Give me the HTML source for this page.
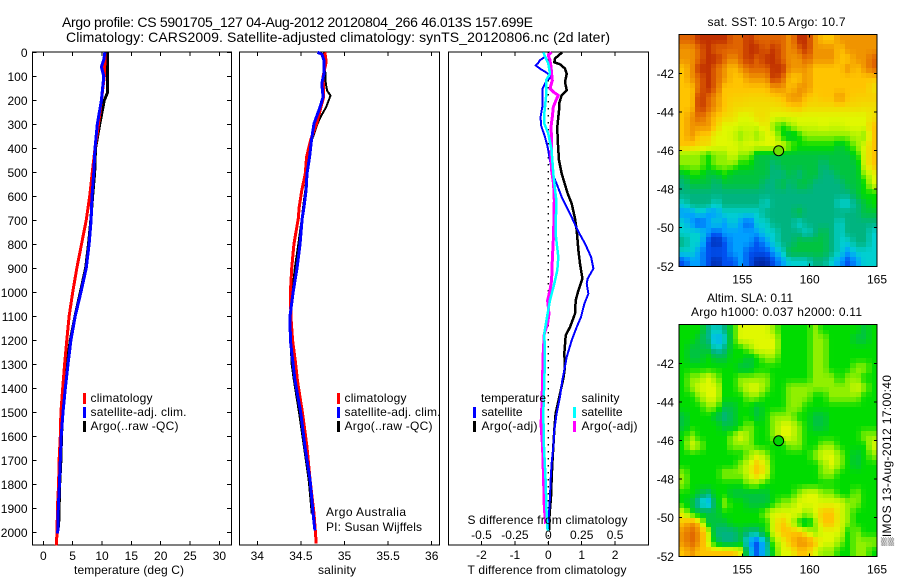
<!DOCTYPE html>
<html>
<head>
<meta charset="utf-8">
<title>Argo profile CS 5901705_127</title>
<style>
html,body{margin:0;padding:0;background:#fff;}
svg{display:block;}
text{font-family:"Liberation Sans",Arial,sans-serif;font-size:12px;fill:#000;}
.crisp{shape-rendering:crispEdges;}
</style>
</head>
<body>
<svg id="figure" width="900" height="580" viewBox="0 0 900 580" xmlns="http://www.w3.org/2000/svg">
<rect x="0" y="0" width="900" height="580" fill="#fff"/>
<text x="62" y="27" style="font-size:14px" textLength="471">Argo profile: CS 5901705_127 04-Aug-2012 20120804_266 46.013S 157.699E</text>
<text x="66" y="42" style="font-size:14px" textLength="544">Climatology: CARS2009. Satellite-adjusted climatology: synTS_20120806.nc (2d later)</text>

<g id="heat1"></g>
<g id="heat2"></g>
<g id="axes"></g>
<g id="series"></g>

<g>
<rect x="83" y="393" width="3" height="11" fill="#f00"/>
<rect x="83" y="407" width="3" height="11" fill="#00f"/>
<rect x="83" y="421" width="3" height="11" fill="#000"/>
<text x="90.5" y="402" textLength="62">climatology</text>
<text x="90.5" y="416" textLength="96">satellite-adj. clim.</text>
<text x="90.5" y="430" textLength="88">Argo(..raw -QC)</text>
</g>
<g>
<rect x="337" y="393" width="3" height="11" fill="#f00"/>
<rect x="337" y="407" width="3" height="11" fill="#00f"/>
<rect x="337" y="421" width="3" height="11" fill="#000"/>
<text x="344.5" y="402" textLength="62">climatology</text>
<text x="344.5" y="416" textLength="96">satellite-adj. clim.</text>
<text x="344.5" y="430" textLength="88">Argo(..raw -QC)</text>
</g>
<text x="326" y="516" textLength="80">Argo Australia</text>
<text x="326" y="531" textLength="96">PI: Susan Wijffels</text>

<g>
<text x="481" y="402" textLength="65">temperature</text>
<rect x="473" y="407" width="3" height="11" fill="#00f"/>
<rect x="473" y="421" width="3" height="11" fill="#000"/>
<text x="481.5" y="416" textLength="41">satellite</text>
<text x="481.5" y="430" textLength="56">Argo(-adj)</text>
<text x="581.5" y="402" textLength="38">salinity</text>
<rect x="573" y="407" width="3" height="11" fill="#0ff"/>
<rect x="573" y="421" width="3" height="11" fill="#f0f"/>
<text x="581.5" y="416" textLength="41">satellite</text>
<text x="581.5" y="430" textLength="56">Argo(-adj)</text>
</g>

<text x="74" y="574" textLength="110">temperature (deg C)</text>
<text x="318" y="574" textLength="38">salinity</text>
<text x="467.5" y="574" textLength="159">T difference from climatology</text>
<text x="467.5" y="524" textLength="160">S difference from climatology</text>

<text x="707.5" y="26" textLength="138">sat. SST: 10.5 Argo: 10.7</text>
<text x="707" y="302" textLength="86">Altim. SLA: 0.11</text>
<text x="691" y="316" textLength="171">Argo h1000: 0.037 h2000: 0.11</text>
<text transform="translate(891,546) rotate(-90)" textLength="171">▒IMOS 13-Aug-2012 17:00:40</text>
</svg>

<script>
// ---------- profile data: depth (dbar) and values ----------
var tempClimDepth = [0,40,100,200,300,400,500,600,700,800,900,1000,1100,1200,1300,1400,1500,1600,1700,1800,1900,2000,2054];
var tempClim =      [10.5,10.5,10.4,9.9,9.4,8.8,8.35,7.9,7.3,6.5,5.7,5.0,4.4,4.0,3.63,3.3,3.0,2.9,2.7,2.6,2.4,2.35,2.2];
var tempSatDepth = [0,30,60,100,200,300,400,500,600,700,800,900,1000,1100,1200,1300,1400,1500,1600,1700,1800,1900,2004];
var tempSat =      [10.5,10.3,9.9,10.3,9.9,9.2,8.8,8.6,8.3,8.15,7.8,7.3,6.4,5.44,4.7,4.2,3.75,3.35,3.05,2.9,2.75,2.55,2.45];
var tempArgoDepth = [0,100,170,200,300,400,500,600,700,800,900,1000,1100,1200,1300,1400,1500,1600,1700,1800,1900,1980];
var tempArgo =      [10.9,10.9,10.9,10.4,9.6,8.9,8.75,8.4,8.1,7.7,7.2,6.3,5.4,4.6,4.0,3.6,3.3,3.1,3.0,2.8,2.7,2.6];

var salClimDepth = [0,40,100,186,228,297,367,436,505,575,645,692,800,900,1000,1100,1200,1300,1367,1506,1645,1783,1922,1992,2047];
var salClim =      [34.775,34.79,34.755,34.76,34.73,34.68,34.61,34.565,34.55,34.51,34.48,34.47,34.42,34.395,34.38,34.385,34.405,34.44,34.46,34.52,34.57,34.605,34.65,34.665,34.675];
var salSatDepth = [0,8,33,89,130,186,228,297,367,436,505,575,645,692,800,900,1000,1100,1200,1300,1367,1506,1645,1783,1922,1992];
var salSat =      [34.69,34.74,34.765,34.765,34.74,34.755,34.72,34.65,34.62,34.6,34.57,34.56,34.535,34.515,34.49,34.455,34.41,34.375,34.38,34.41,34.432,34.5,34.547,34.605,34.64,34.66];
var salArgoDepth = [0,50,130,160,180,195,228,260,297,367,436,505,575,645,692,800,900,1000,1100,1200,1300,1367,1506,1645,1783,1922];
var salArgo =      [34.765,34.775,34.785,34.8,34.84,34.825,34.79,34.74,34.69,34.625,34.585,34.565,34.55,34.525,34.51,34.47,34.43,34.4,34.375,34.38,34.395,34.42,34.48,34.535,34.59,34.625];

var diffTArgoDepth = [0,8,26,42,50,68,89,124,158,179,214,242,311,367,450,506,589,631,693,742,825,881,943,992,1033,1089,1145,1179,1256,1311,1360,1436,1506,1575,1645,1714,1783,1853,1922,1992];
var diffTArgo =      [0.42,0.35,0.2,0.18,0.35,0.5,0.55,0.5,0.55,0.4,0.32,0.32,0.27,0.28,0.32,0.4,0.58,0.7,0.8,0.85,0.9,0.95,1.02,0.9,0.82,0.8,0.65,0.52,0.48,0.5,0.45,0.33,0.22,0.18,0.15,0.12,0.1,0.08,0.04,0.02];
var diffTSatDepth = [0,19,33,44,54,68,85,103,117,151,193,228,269,304,353,394,506,547,603,672,742,797,853,901,943,964,1006,1047,1103,1145,1200,1270,1325,1367,1436,1506,1575,1645,1714,1783,1853,1922,1992];
var diffTSat =      [-0.15,-0.1,-0.25,-0.3,-0.38,-0.25,-0.05,0.1,-0.05,-0.17,-0.18,-0.18,-0.23,-0.22,-0.1,-0.02,0.12,0.25,0.4,0.65,0.88,1.1,1.28,1.35,1.18,1.15,1.2,1.08,0.98,0.85,0.7,0.55,0.48,0.42,0.35,0.25,0.18,0.15,0.1,0.07,0.05,0.02,-0.02];
var diffSArgoDepth = [0,12,33,61,89,117,151,165,179,200,228,269,311,367,436,492,550,617,756,867,950,992,1033,1089,1131,1172,1270,1360,1506,1547,1645,1783,1894,1964];
var diffSArgo =      [0.025,0,0.0125,0.02,0.025,0.03,0.0125,0.0375,0.075,0.0575,0.0375,0.03,0.02,0.025,0.02,0.025,0.04,0.045,0.04,0.03,0.025,0.0125,-0.005,0.005,-0.005,-0.03,-0.04,-0.0425,-0.05,-0.055,-0.0425,-0.035,-0.03,-0.02];
var diffSSatDepth = [0,47,89,117,186,256,297,339,408,506,617,756,853,908,964,1033,1089,1172,1270,1367,1506,1645,1783,1922,1992];
var diffSSat =      [-0.0375,0,0.0125,-0.0175,-0.0175,-0.03,-0.03,0,0.025,0.0375,0.06,0.055,0.075,0.0675,0.045,0.0125,-0.005,-0.03,-0.025,-0.03,-0.0375,-0.0325,-0.02,-0.0125,-0.005];

// ---------- tick labels ----------
var depthTicks = [0,100,200,300,400,500,600,700,800,900,1000,1100,1200,1300,1400,1500,1600,1700,1800,1900,2000];
var tempTicks = [0,5,10,15,20,25,30];
var salTicks = [34,34.5,35,35.5,36];
var salTickLabels = ["34","34.5","35","35.5","36"];
var diffTTicks = [-2,-1,0,1,2];
var diffSTicks = [-0.5,-0.25,0,0.25,0.5];
var diffSTickLabels = ["-0.5","-0.25","0","0.25","0.5"];
var lonTicks = [155,160,165];
var latTicks = [-42,-44,-46,-48,-50,-52];
var argoLon = 157.699;
var argoLat = -46.013;

// ---------- map data: colour-scale values, north to south, west to east ----------
var mapColours = ["#0028a8","#0050f0","#00a0ff","#00d0d0","#00b480","#00c440","#00dc00","#90f000","#e0f800","#ffc400","#f09400","#e06400","#c03000"];
var sstGrid = [
[11,11,12,12,12,12,11,11,12,11,11,11,11,10,12,12,10,9,9,10,10,10,10,10],
[10,10,11,12,11,11,11,11,12,12,11,12,11,10,11,12,10,10,10,9,10,10,10,10],
[10,10,11,12,12,11,10,11,12,11,12,12,11,10,10,11,10,10,10,9,9,10,10,11],
[9,10,12,12,11,10,9,10,11,11,11,12,12,10,10,10,9,9,9,9,10,9,10,11],
[9,10,11,12,11,10,9,9,10,10,10,12,11,9,9,10,9,9,9,9,9,9,9,9],
[9,9,11,12,11,9,9,9,9,9,9,10,10,9,10,10,9,9,9,9,9,9,9,8.5],
[9,9,12,11,10,9,8.8,8.8,8.7,8.7,8.7,8.8,9,10,10,9,8.8,9,9,10,9,8.8,8.8,8.8],
[9,9,12,11,10,9,8.6,8.6,8.5,8.5,8.5,8.5,8.6,8.8,9,8.6,8.6,8.6,8.6,8.6,8.6,8.6,8.5,8.5],
[9,10,11,10,9,8.6,8.5,8,8,8.5,8.5,8,8,8,8,8,8,8,8,8,8,8,8,8.5],
[9,10,10,10,8.8,8,8,7.8,7.8,7.8,8.5,7,6,7,7.8,7.8,7.8,8,7.8,7.8,8,8,8,9],
[9,10,8.8,8.8,8,8,7.8,7,7.8,7,8,8,6,5,6,7,7,7,7,7,7,7.6,7,9],
[9,8.8,8.6,8.5,8,8,8,7.8,8,8,8,8,8,7,6,6,6,6,6,5,6,7,8,9],
[7,7,7,6,7,7,8,7,7,5,5,5,5,5,5,5,5,5,5,5,5,6,8,9],
[7,7,7,6,7,7,7,6,6,5,5,4,5,5,5,5,5,4,5,5,5,5,8,9],
[5,6,6,5,5,6,5,5,5,5,5,4,4,5,4,5,5,4,4,5,5,5,7,8],
[4,5,5,5,4,5,5,5,5,5,4,4,5,4,5,5,4,4,4,4,5,5,6,8],
[4,4,4,4,4,4,4,4,4,4,4,4,4,4,4,4,4,4,4,4,4,5,6,6],
[3,4,4,4,3,4,4,4,4,4,3,4,4,4,4,4,4,4,4,3,3,4,5,6],
[2,2,3,2,2,3,3,3,3,3,4,4,4,4,5,4,4,4,4,4,4,4,5,5],
[3,2,1,2,3,2,3,2,1,3,3,4,4,4,3,4,4,4,4,3,4,4,4,4],
[3,3,3,2,1,2,2,2,2,2,3,3,4,4,4,3,4,5,4,3,4,4,4,3],
[4,3,3,1,0,1,2,2,2,1,2,3,4,4,5,5,5,5,4,3,3,4,4,3],
[3,3,2,1,1,1,2,2,1,1,1,2,3,5,5,5,5,5,4,3,2,3,3,3],
[1,2,2,1,0,1,1,2,1,0,0,1,2,3,3,3,4,4,3,2,1,2,3,3]
];
var slaGrid = [
[6,6,6,4,3,4,6,8,8,8,8,7,6,6,6,6,7,6,6,6,6,6,5,6],
[6,6,5,4,2,3,6,8,8,8,8,8,6,6,6,6,7,7,6,6,6,5,5,6],
[6,5,5,5,3,4,6,6,7,8,8,8,6,6,6,6,7,7,6,6,6,6,6,6],
[6,5,5,6,5,5,6,6,5,6,7,7,6,6,6,6,7,7,6,6,6,6,6,6],
[6,6,6,6,6,6,6,5,5,6,6,6,6,6,6,6,7,7,6,6,6,7,7,6],
[6,7,7,8,7,6,6,7,7,7,7,6,6,6,6,6,7,7,7,6,7,7,6,6],
[6,7,8,8,8,6,6,7,8,8,7,6,6,7,7,7,7,7,7,7,7,8,7,6],
[6,6,7,8,8,6,6,6,7,7,6,6,6,7,7,7,6,6,7,7,7,7,6,6],
[6,6,6,7,7,5,5,6,6,5,6,6,6,7,7,6,6,6,6,6,6,6,6,6],
[5,6,6,6,5,4,5,6,6,5,6,7,7,7,6,6,5,5,6,6,6,6,6,6],
[5,6,6,6,6,5,5,6,7,6,6,7,8,8,7,6,5,5,6,6,6,6,6,6],
[6,7,6,6,6,6,7,8,7,6,6,7,8,8,7,6,6,6,6,6,6,6,7,7],
[6,8,7,6,6,6,7,7,7,6,6,6,6,7,7,6,6,7,7,6,6,6,6,8],
[6,6,6,6,6,6,6,6,7,8,7,6,6,6,6,6,7,8,8,7,6,5,6,7],
[6,6,6,6,6,6,6,7,8,9,8,6,6,6,6,6,6,7,8,7,6,5,6,6],
[7,6,6,6,6,7,7,7,8,9,8,6,6,6,6,6,6,7,7,6,6,6,6,6],
[7,6,6,6,6,6,6,6,7,7,6,6,6,6,6,6,6,6,6,6,6,6,6,6],
[6,6,5,4,6,6,5,5,5,5,5,6,6,6,7,8,8,7,7,6,6,7,6,6],
[6,5,3,2,5,7,6,6,5,5,5,6,7,7,8,8,8,8,8,8,7,7,6,6],
[8,6,5,5,5,6,6,6,6,6,7,8,8,8,8,7,8,9,9,8,7,6,6,6],
[9,10,9,5,5,5,6,6,6,6,6,8,9,8,6,5,7,9,9,8,7,6,6,6],
[10,11,10,8,4,4,4,5,4,4,6,8,9,9,9,8,7,8,8,8,6,7,6,6],
[10,11,10,8,5,4,4,5,2,1,3,7,8,9,10,10,9,8,8,7,6,7,7,7],
[9,10,9,9,9,9,9,8,3,1,3,6,8,8,9,9,8,7,7,6,6,7,7,6]
];

// ---------- axis functions ----------
var NS = "http://www.w3.org/2000/svg";
var PANEL_TOP = 52, PANEL_BOTTOM = 545;
var MAP_COLS = 37, MAP_ROWS = 48;
function yDepth(d){ return 52.3 + d * 0.24; }
function xTemp(t){ return 43.3 + t * 5.87; }
function xSal(s){ return 257.3 + (s - 34) * 87.2; }
function xDiffT(t){ return 548.3 + t * 33.4; }
function xDiffS(s){ return 548.3 + s * 133.6; }
function xLon(lon){ return 742.3 + (lon - 155) * 13.47; }
function yLat1(lat){ return 73.3 + (-42 - lat) * 19.3; }
function yLat2(lat){ return 363.3 + (-42 - lat) * 19.3; }

function mk(tag, attrs, parent){
  var el = document.createElementNS(NS, tag);
  for (var k in attrs) { el.setAttribute(k, attrs[k]); }
  parent.appendChild(el);
  return el;
}
var axesLayer = document.getElementById("axes");
var seriesLayer = document.getElementById("series");

function drawLine(x1, y1, x2, y2, name){
  var el = mk("line", {x1:x1, y1:y1, x2:x2, y2:y2, stroke:"#000", "stroke-width":1, "class":"crisp"}, axesLayer);
  
  
  return el;
}
function drawLabel(x, y, str, anchor, name){
  var el = mk("text", {x:x, y:y, "text-anchor":anchor}, axesLayer);
  el.textContent = str;
  
  
  return el;
}
function drawFrame(x, y, w, h, name){
  var el = mk("rect", {x:x, y:y, width:w, height:h, fill:"none", stroke:"#000", "stroke-width":1, "class":"crisp"}, axesLayer);
  
  
  return el;
}
function drawProfile(depths, values, xFn, colour, width, name){
  var pts = [];
  for (var i = 0; i < values.length; i++) {
    pts.push(xFn(values[i]).toFixed(1) + "," + yDepth(depths[i]).toFixed(1));
  }
  var el = mk("polyline", {points:pts.join(" "), fill:"none", stroke:colour, "stroke-width":width, "stroke-linejoin":"round", "class":"crisp"}, seriesLayer);
  
  
  return el;
}

// ---------- profile panels ----------
drawFrame(32.5, PANEL_TOP, 199, PANEL_BOTTOM - PANEL_TOP, "temperature-panel-frame");
drawFrame(239.5, PANEL_TOP, 200, PANEL_BOTTOM - PANEL_TOP, "salinity-panel-frame");
drawFrame(448.5, PANEL_TOP, 200, PANEL_BOTTOM - PANEL_TOP, "difference-panel-frame");

depthTicks.forEach(function(d){
  var y = yDepth(d);
  drawLine(32.5, y, 36.5, y, "depth-tick-left");
  drawLine(227, y, 231.5, y, "depth-tick-right");
  drawLabel(27.5, y + 4.5, String(d), "end", "depth-tick-label");
});
tempTicks.forEach(function(t){
  var x = xTemp(t);
  drawLine(x, PANEL_TOP, x, PANEL_TOP + 4, "temperature-tick-top");
  drawLine(x, PANEL_BOTTOM - 4, x, PANEL_BOTTOM, "temperature-tick-bottom");
  drawLabel(x, 560, String(t), "middle", "temperature-tick-label");
});
salTicks.forEach(function(s, i){
  var x = xSal(s);
  drawLine(x, PANEL_TOP, x, PANEL_TOP + 4, "salinity-tick-top");
  drawLine(x, PANEL_BOTTOM - 4, x, PANEL_BOTTOM, "salinity-tick-bottom");
  drawLabel(x, 560, salTickLabels[i], "middle", "salinity-tick-label");
});
diffTTicks.forEach(function(t){
  var x = xDiffT(t);
  drawLine(x, PANEL_TOP, x, PANEL_TOP + 4, "t-difference-tick-top");
  drawLine(x, PANEL_BOTTOM - 4, x, PANEL_BOTTOM, "t-difference-tick-bottom");
  drawLabel(x, 559, String(t), "middle", "t-difference-tick-label");
});
diffSTicks.forEach(function(s, i){
  drawLabel(xDiffS(s), 539, diffSTickLabels[i], "middle", "s-difference-tick-label");
});

// zero reference line
var zeroLine = mk("line", {x1:xDiffT(0), y1:PANEL_TOP, x2:xDiffT(0), y2:PANEL_BOTTOM, stroke:"#000", "stroke-width":1.4, "stroke-dasharray":"1.5 5.5"}, seriesLayer);



drawProfile(tempArgoDepth, tempArgo, xTemp, "#000", 3, "temperature-argo-line");
drawProfile(tempClimDepth, tempClim, xTemp, "#f00", 3, "temperature-climatology-line");
drawProfile(tempSatDepth, tempSat, xTemp, "#00f", 3, "temperature-satellite-line");

drawProfile(salArgoDepth, salArgo, xSal, "#000", 2, "salinity-argo-line");
drawProfile(salClimDepth, salClim, xSal, "#f00", 3, "salinity-climatology-line");
drawProfile(salSatDepth, salSat, xSal, "#00f", 3, "salinity-satellite-line");

drawProfile(diffTArgoDepth, diffTArgo, xDiffT, "#000", 2.5, "t-difference-argo-line");
drawProfile(diffTSatDepth, diffTSat, xDiffT, "#00f", 2, "t-difference-satellite-line");
drawProfile(diffSArgoDepth, diffSArgo, xDiffS, "#f0f", 3, "s-difference-argo-line");
drawProfile(diffSSatDepth, diffSSat, xDiffS, "#0ff", 2.5, "s-difference-satellite-line");

// ---------- maps ----------
function hexChannel(hex, i){ return parseInt(hex.substr(1 + i * 2, 2), 16); }
function colourFor(v){
  var top = mapColours.length - 1;
  var clamped = Math.max(0, Math.min(top, v));
  var lo = Math.floor(clamped), hi = Math.min(top, lo + 1), f = clamped - lo;
  var parts = [];
  for (var i = 0; i < 3; i++) {
    parts.push(Math.round(hexChannel(mapColours[lo], i) * (1 - f) + hexChannel(mapColours[hi], i) * f));
  }
  return "rgb(" + parts.join(",") + ")";
}
function sampleGrid(grid, u, v){
  var rows = grid.length, cols = grid[0].length;
  var fx = Math.max(0, Math.min(cols - 1, u * cols - 0.5));
  var fy = Math.max(0, Math.min(rows - 1, v * rows - 0.5));
  var x0 = Math.floor(fx), y0 = Math.floor(fy);
  var x1 = Math.min(cols - 1, x0 + 1), y1 = Math.min(rows - 1, y0 + 1);
  var ax = fx - x0, ay = fy - y0;
  return (grid[y0][x0] * (1 - ax) + grid[y0][x1] * ax) * (1 - ay) + (grid[y1][x0] * (1 - ax) + grid[y1][x1] * ax) * ay;
}
function drawHeatmap(grid, parentId, yFn, cellName){
  var parent = document.getElementById(parentId);
  var lonW = 150.3, lonE = 165, latN = -40, latS = -52;
  for (var r = 0; r < MAP_ROWS; r++) {
    for (var c = 0; c < MAP_COLS; c++) {
      var x0 = Math.round(xLon(lonW + (lonE - lonW) * c / MAP_COLS));
      var x1 = Math.round(xLon(lonW + (lonE - lonW) * (c + 1) / MAP_COLS));
      var y0 = Math.round(yFn(latN + (latS - latN) * r / MAP_ROWS));
      var y1 = Math.round(yFn(latN + (latS - latN) * (r + 1) / MAP_ROWS));
      var value = sampleGrid(grid, (c + 0.5) / MAP_COLS, (r + 0.5) / MAP_ROWS);
      var cell = mk("rect", {x:x0, y:y0, width:x1 - x0, height:y1 - y0, fill:colourFor(value), "class":"crisp"}, parent);
      
      
    }
  }
}
drawHeatmap(sstGrid, "heat1", yLat1, "sst-cell");
drawHeatmap(slaGrid, "heat2", yLat2, "sla-cell");

function drawMapAxes(yFn, prefix, markerFill){
  var top = yFn(-40), bottom = yFn(-52);
  var left = xLon(150.3), right = xLon(165);
  drawFrame(left, top, right - left, bottom - top, prefix + "-map-frame");
  lonTicks.forEach(function(lon){
    var x = xLon(lon);
    drawLine(x, top, x, top + 3, prefix + "-lon-tick-top");
    drawLine(x, bottom - 3, x, bottom, prefix + "-lon-tick-bottom");
    drawLabel(x, bottom + 17, String(lon), "middle", prefix + "-lon-tick-label");
  });
  latTicks.forEach(function(lat){
    var y = yFn(lat);
    drawLine(left, y, left + 3, y, prefix + "-lat-tick-left");
    drawLine(right - 3, y, right, y, prefix + "-lat-tick-right");
    drawLabel(left - 5, y + 4.5, String(lat), "end", prefix + "-lat-tick-label");
  });
  var marker = mk("circle", {cx:xLon(argoLon), cy:yFn(argoLat), r:5, fill:markerFill, stroke:"#000", "stroke-width":1}, axesLayer);
  
  
}
drawMapAxes(yLat1, "sst", "#70e000");
drawMapAxes(yLat2, "sla", "#00d400");
</script>
</body>
</html>
